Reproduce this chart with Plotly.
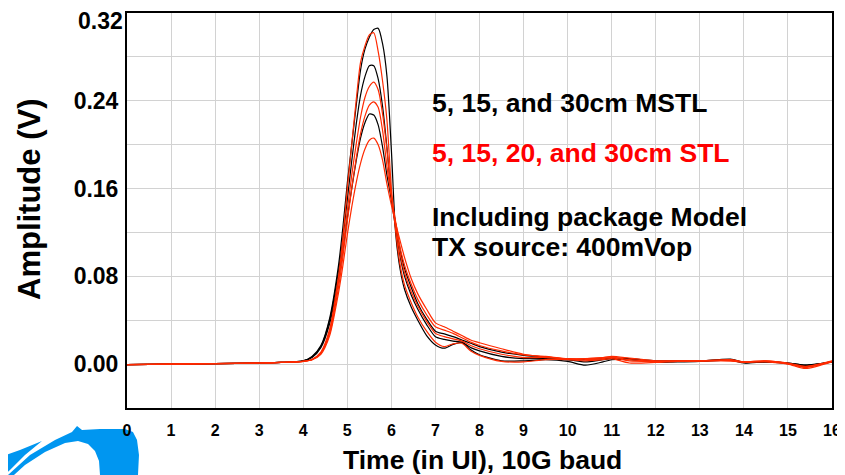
import plotly.graph_objects as go

# ---- data ----
t_ui = [0, 1, 2, 3, 3.5, 4.0, 4.2, 4.4, 4.6, 4.8, 4.9, 5.0, 5.1, 5.2, 5.3, 5.4, 5.5, 5.6, 5.7, 5.8,
        5.9, 6.0, 6.1, 6.2, 6.3, 6.45, 6.6, 6.8, 7.0, 7.2, 7.4, 7.6, 7.8, 8.0, 8.5, 9.0, 9.5, 10.0,
        10.4, 10.8, 11.0, 11.4, 12.0, 12.5, 13.0, 13.7, 14.0, 14.5, 15.0, 15.4, 16.0]

mstl_5cm = [-0.0005, 0.0, 0.0005, 0.001, 0.0015, 0.003, 0.007, 0.017, 0.042, 0.09, 0.125, 0.165, 0.2,
            0.235, 0.268, 0.287, 0.298, 0.305, 0.306, 0.292, 0.262, 0.195, 0.118, 0.086, 0.068, 0.052,
            0.04, 0.026, 0.0175, 0.0145, 0.018, 0.0198, 0.013, 0.0085, 0.003, 0.003, 0.004, 0.0025,
            -0.001, 0.002, 0.004, 0.0045, 0.002, 0.002, 0.0025, 0.0045, 0.0015, 0.002, 0.0005, -0.0015, 0.002]
mstl_15cm = [-0.0005, 0.0, 0.0005, 0.001, 0.0015, 0.003, 0.0065, 0.016, 0.04, 0.085, 0.115, 0.15, 0.185,
             0.218, 0.245, 0.262, 0.272, 0.272, 0.26, 0.235, 0.197, 0.152, 0.123, 0.098, 0.08, 0.063,
             0.05, 0.036, 0.025, 0.0225, 0.021, 0.02, 0.015, 0.012, 0.007, 0.005, 0.005, 0.004,
             0.002, 0.004, 0.005, 0.004, 0.002, 0.0025, 0.0025, 0.0035, 0.001, 0.002, 0.001, -0.001, 0.002]
mstl_30cm = [-0.0005, 0.0, 0.0005, 0.001, 0.0015, 0.003, 0.006, 0.015, 0.037, 0.078, 0.104, 0.133, 0.16,
             0.185, 0.206, 0.22, 0.228, 0.227, 0.218, 0.198, 0.172, 0.15, 0.127, 0.104, 0.087, 0.07,
             0.055, 0.041, 0.030, 0.0275, 0.025, 0.022, 0.019, 0.016, 0.011, 0.008, 0.0065, 0.004,
             0.004, 0.005, 0.0055, 0.005, 0.003, 0.003, 0.003, 0.004, 0.0015, 0.002, 0.001, -0.001, 0.002]

stl_5cm = [-0.0005, 0.0, 0.0005, 0.001, 0.0015, 0.0025, 0.0045, 0.011, 0.032, 0.08, 0.115, 0.16, 0.2,
           0.24, 0.275, 0.29, 0.3, 0.302, 0.285, 0.258, 0.222, 0.16, 0.12, 0.09, 0.072, 0.056,
           0.043, 0.03, 0.02, 0.016, 0.0185, 0.019, 0.012, 0.008, 0.0025, 0.002, 0.004, 0.004,
           0.003, 0.004, 0.005, 0.001, 0.0015, 0.0025, 0.003, 0.004, 0.002, 0.002, 0.0, -0.004, 0.002]
stl_15cm = [-0.0005, 0.0, 0.0005, 0.001, 0.0015, 0.0025, 0.004, 0.01, 0.03, 0.075, 0.105, 0.14, 0.172,
            0.2, 0.225, 0.243, 0.253, 0.257, 0.25, 0.228, 0.195, 0.155, 0.126, 0.1, 0.083, 0.066,
            0.053, 0.039, 0.028, 0.025, 0.023, 0.021, 0.017, 0.014, 0.009, 0.006, 0.006, 0.0045,
            0.004, 0.005, 0.006, 0.003, 0.0025, 0.0025, 0.003, 0.003, 0.0015, 0.0025, 0.0005, -0.0025, 0.0025]
stl_20cm = [-0.0005, 0.0, 0.0005, 0.001, 0.0015, 0.0025, 0.004, 0.01, 0.028, 0.07, 0.098, 0.13, 0.16,
            0.187, 0.21, 0.226, 0.236, 0.239, 0.234, 0.213, 0.18, 0.152, 0.129, 0.106, 0.09, 0.073,
            0.059, 0.045, 0.034, 0.031, 0.028, 0.024, 0.02, 0.017, 0.012, 0.0085, 0.007, 0.005,
            0.005, 0.006, 0.0065, 0.004, 0.0025, 0.003, 0.003, 0.0035, 0.002, 0.003, 0.0005, -0.003, 0.0025]
stl_30cm = [-0.0005, 0.0, 0.0005, 0.001, 0.0015, 0.0025, 0.004, 0.009, 0.026, 0.065, 0.09, 0.118, 0.143,
            0.165, 0.183, 0.196, 0.204, 0.206, 0.2, 0.186, 0.164, 0.145, 0.128, 0.112, 0.097, 0.078,
            0.064, 0.05, 0.0376, 0.034, 0.03, 0.026, 0.022, 0.0195, 0.014, 0.009, 0.0065, 0.005,
            0.005, 0.006, 0.007, 0.0055, 0.003, 0.003, 0.003, 0.003, 0.002, 0.003, 0.001, -0.002, 0.003]

black_series = [("5cm MSTL", mstl_5cm), ("15cm MSTL", mstl_15cm), ("30cm MSTL", mstl_30cm)]
red_series = [("5cm STL", stl_5cm), ("15cm STL", stl_15cm), ("20cm STL", stl_20cm), ("30cm STL", stl_30cm)]

y_ticks = [-0.04, 0.0, 0.04, 0.08, 0.12, 0.16, 0.20, 0.24, 0.28, 0.32]
y_tick_text = ["", "0.00", "", "0.08", "", "0.16", "", "0.24", "", ""]
y_top_label = "0.32"   # drawn just under the top edge, as in the reference
x_ticks = list(range(0, 17))
x_tick_text = [str(v) for v in x_ticks]

# ---- layout geometry (page pixels; the page body has an 8px margin) ----
OFF = 8
W, H = 845 - OFF, 475 - OFF
X0, X1, Y0, Y1 = 127, 832, 13, 408          # plot area in page pixels
L, R, T, B = X0 - OFF, W - (X1 - OFF), Y0 - OFF, H - (Y1 - OFF)
PW, PH = X1 - X0, Y1 - Y0


def px(xp):
    return (xp - X0) / PW


def py(yp):
    return (Y1 - yp) / PH


FONT = "Arial, Liberation Sans, sans-serif"

fig = go.Figure()
for name, vals in black_series:
    fig.add_trace(go.Scatter(x=t_ui, y=vals, mode="lines", name=name,
                             line=dict(color="#000000", width=1.2, shape="spline", smoothing=0.7)))
for name, vals in red_series:
    fig.add_trace(go.Scatter(x=t_ui, y=vals, mode="lines", name=name,
                             line=dict(color="#ff2a00", width=1.2, shape="spline", smoothing=0.7)))

axis_common = dict(showline=True, linecolor="#000000", linewidth=2, mirror=True, automargin=False,
                   showgrid=True, gridcolor="#d2d2d2", gridwidth=1, zeroline=False, ticks="",
                   ticklabeloverflow="allow")

fig.update_xaxes(range=[0, 16], tickvals=x_ticks, ticktext=x_tick_text,
                 tickfont=dict(family=FONT, size=16, color="#000000", weight="bold"),
                 ticklabelstandoff=7, **axis_common)
fig.update_yaxes(range=[-0.04, 0.32], tickvals=y_ticks, ticktext=y_tick_text,
                 tickfont=dict(family=FONT, size=23, color="#000000", weight="bold"),
                 ticklabelstandoff=2, **axis_common)


def note(text, xp, yp, size, color="#000000", angle=0, xanchor="left"):
    fig.add_annotation(text=text, x=px(xp), y=py(yp), xref="paper", yref="paper",
                       showarrow=False, xanchor=xanchor, yanchor="middle", textangle=angle,
                       font=dict(family=FONT, size=size, color=color, weight="bold"))


note(y_top_label, 125, 21, 23, xanchor="right")
note("5, 15, and 30cm MSTL", 430, 103, 26.5)
note("5, 15, 20, and 30cm STL", 430, 153, 26.5, color="#ff0000")
note("Including package Model", 430, 217, 26.5)
note("TX source: 400mVop", 430, 247, 26.5)
note("Time (in UI), 10G baud", 483, 460, 26.5, xanchor="center")
note("Amplitude (V)", 30, 199, 31, angle=-90, xanchor="center")


def path(points):
    s = "M " + " L ".join(f"{px(a):.4f},{py(b):.4f}" for a, b in points) + " Z"
    return s


logo_main = [(8, 475), (30, 455), (55, 440), (72, 432), (77, 426), (82, 430), (100, 429), (125, 429),
             (133, 432), (137, 440), (139, 455), (138, 475), (100, 475), (99, 461), (95, 451),
             (88, 444), (78, 441), (65, 443), (45, 452), (25, 465), (14, 475)]
logo_small = [(0, 457), (20, 450), (42, 441), (25, 455), (10, 470), (4, 475), (0, 475)]
for pts in (logo_main, logo_small):
    fig.add_shape(type="path", path=path(pts), xref="paper", yref="paper",
                  fillcolor="#0096f0", line=dict(width=0), layer="below")

fig.update_layout(width=W, height=H, margin=dict(l=L, r=R, t=T, b=B, pad=0, autoexpand=False),
                  paper_bgcolor="#ffffff", plot_bgcolor="#ffffff", showlegend=False)

fig.write_html("out.html")
